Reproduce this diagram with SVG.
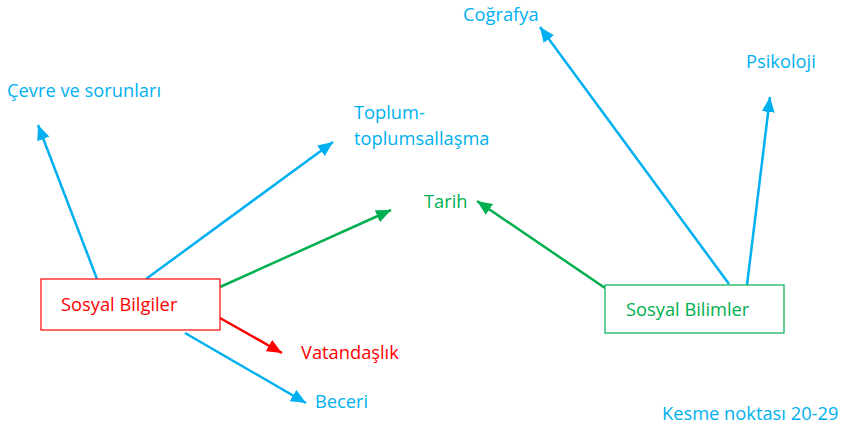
<svg xmlns="http://www.w3.org/2000/svg" width="843" height="427" viewBox="0 0 843 427">
<style>
text{font-family:"Open Sans","Liberation Sans",sans-serif;font-size:18.3px}
.b{fill:#00B0F0}.g{fill:#00B050}.r{fill:#FF0000}
.lb{stroke:#00B0F0;stroke-width:2.5;fill:none}
.lg{stroke:#00B050;stroke-width:2.5;fill:none}
.lr{stroke:#FF0000;stroke-width:2.5;fill:none}
</style>
<defs>
<marker id="ab" markerUnits="userSpaceOnUse" markerWidth="16" markerHeight="13" refX="15" refY="6.5" orient="auto"><path d="M0,0 L15,6.5 L0,13 z" fill="#00B0F0"/></marker>
<marker id="ag" markerUnits="userSpaceOnUse" markerWidth="16" markerHeight="13" refX="15" refY="6.5" orient="auto"><path d="M0,0 L15,6.5 L0,13 z" fill="#00B050"/></marker>
<marker id="ar" markerUnits="userSpaceOnUse" markerWidth="16" markerHeight="13" refX="15" refY="6.5" orient="auto"><path d="M0,0 L15,6.5 L0,13 z" fill="#FF0000"/></marker>
</defs>
<rect width="843" height="427" fill="#fff"/>
<g id="connectors">
<line class="lb" x1="97" y1="279" x2="38" y2="125" marker-end="url(#ab)"/>
<line class="lb" x1="146" y1="279" x2="333" y2="142" marker-end="url(#ab)"/>
<line class="lg" x1="220" y1="287" x2="391" y2="210" marker-end="url(#ag)"/>
<line class="lr" x1="220" y1="318" x2="282" y2="353" marker-end="url(#ar)"/>
<line class="lb" x1="185" y1="333" x2="306" y2="403" marker-end="url(#ab)"/>
<line class="lg" x1="605" y1="288" x2="477" y2="201" marker-end="url(#ag)"/>
<line class="lb" x1="729" y1="284" x2="540" y2="27" marker-end="url(#ab)"/>
<line class="lb" x1="747" y1="285" x2="770" y2="97" marker-end="url(#ab)"/>
</g>
<g id="sosyal-bilgiler">
<rect x="41" y="279" width="179" height="51" fill="#fff" stroke="#FF0000" stroke-width="1.2"/>
<text class="r" x="61" y="311">Sosyal Bilgiler</text>
</g>
<g id="sosyal-bilimler">
<rect x="605" y="285" width="179" height="48" fill="#fff" stroke="#00B050" stroke-width="1.2"/>
<text class="g" x="626" y="316">Sosyal Bilimler</text>
</g>
<g id="cevre"><text class="b" x="7" y="97">Çevre ve sorunları</text></g>
<g id="toplum"><text class="b" x="354" y="119">Toplum-</text><text class="b" x="354" y="145">toplumsallaşma</text></g>
<g id="tarih"><text class="g" x="424" y="208">Tarih</text></g>
<g id="vatandaslik"><text class="r" x="301" y="359">Vatandaşlık</text></g>
<g id="beceri"><text class="b" x="315" y="408">Beceri</text></g>
<g id="cografya"><text class="b" x="463" y="21">Coğrafya</text></g>
<g id="psikoloji"><text class="b" x="746" y="68">Psikoloji</text></g>
<g id="kesme"><text class="b" x="662" y="420">Kesme noktası 20-29</text></g>
</svg>
